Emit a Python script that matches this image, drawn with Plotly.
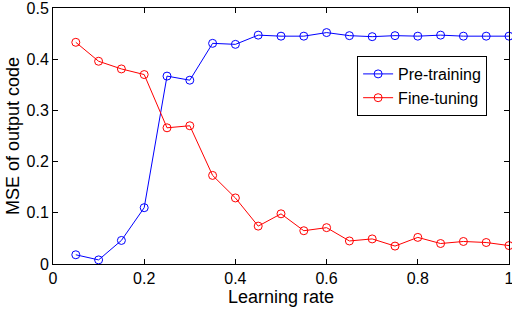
import plotly.graph_objects as go

learning_rate = [0.05, 0.1, 0.15, 0.2, 0.25, 0.3, 0.35, 0.4, 0.45, 0.5,
                 0.55, 0.6, 0.65, 0.7, 0.75, 0.8, 0.85, 0.9, 0.95, 1.0]
pre_training = [0.018, 0.008, 0.046, 0.110, 0.367, 0.359, 0.431, 0.429, 0.447, 0.445,
                0.445, 0.452, 0.446, 0.444, 0.446, 0.445, 0.447, 0.445, 0.445, 0.445]
fine_tuning = [0.433, 0.396, 0.381, 0.370, 0.266, 0.270, 0.173, 0.129, 0.074, 0.098,
               0.065, 0.071, 0.045, 0.049, 0.035, 0.052, 0.040, 0.044, 0.042, 0.036]

fig = go.Figure()
fig.add_trace(go.Scatter(x=learning_rate, y=pre_training, name="Pre-training",
                         mode="lines+markers", cliponaxis=False,
                         line=dict(color="#0000ff", width=1),
                         marker=dict(symbol="circle-open", size=8, color="#0000ff", line=dict(width=1))))
fig.add_trace(go.Scatter(x=learning_rate, y=fine_tuning, name="Fine-tuning",
                         mode="lines+markers", cliponaxis=False,
                         line=dict(color="#ff0000", width=1),
                         marker=dict(symbol="circle-open", size=8, color="#ff0000", line=dict(width=1))))

axis_common = dict(showgrid=False, zeroline=False, showline=True, linecolor="black",
                   linewidth=1, mirror="ticks", ticks="inside", ticklen=5,
                   tickcolor="black", tickfont=dict(size=16, color="black"),
                   automargin=False, ticklabeloverflow="allow")
fig.update_layout(
    width=512, height=311,
    margin=dict(l=53, r=3, t=8, b=47),
    paper_bgcolor="white", plot_bgcolor="white",
    font=dict(family="Liberation Sans, Arial, sans-serif", color="black"),
    xaxis=dict(range=[0, 1], tickvals=[0, 0.2, 0.4, 0.6, 0.8, 1],
               ticktext=["0", "0.2", "0.4", "0.6", "0.8", "1"],
               title=dict(text="Learning rate", font=dict(size=18), standoff=2), **axis_common),
    yaxis=dict(range=[0, 0.5], tickvals=[0, 0.1, 0.2, 0.3, 0.4, 0.5],
               ticktext=["0", "0.1", "0.2", "0.3", "0.4", "0.5"],
               title=dict(text="MSE of output code", font=dict(size=18), standoff=2), **axis_common),
    legend=dict(x=0.952, y=0.8125, xanchor="right", yanchor="top",
                bgcolor="white", bordercolor="black", borderwidth=1,
                font=dict(size=16), tracegroupgap=0),
    showlegend=True,
)
fig.write_html("out.html", config={"displayModeBar": False},
               post_script="document.body.style.margin='0';document.body.style.padding='0';")
